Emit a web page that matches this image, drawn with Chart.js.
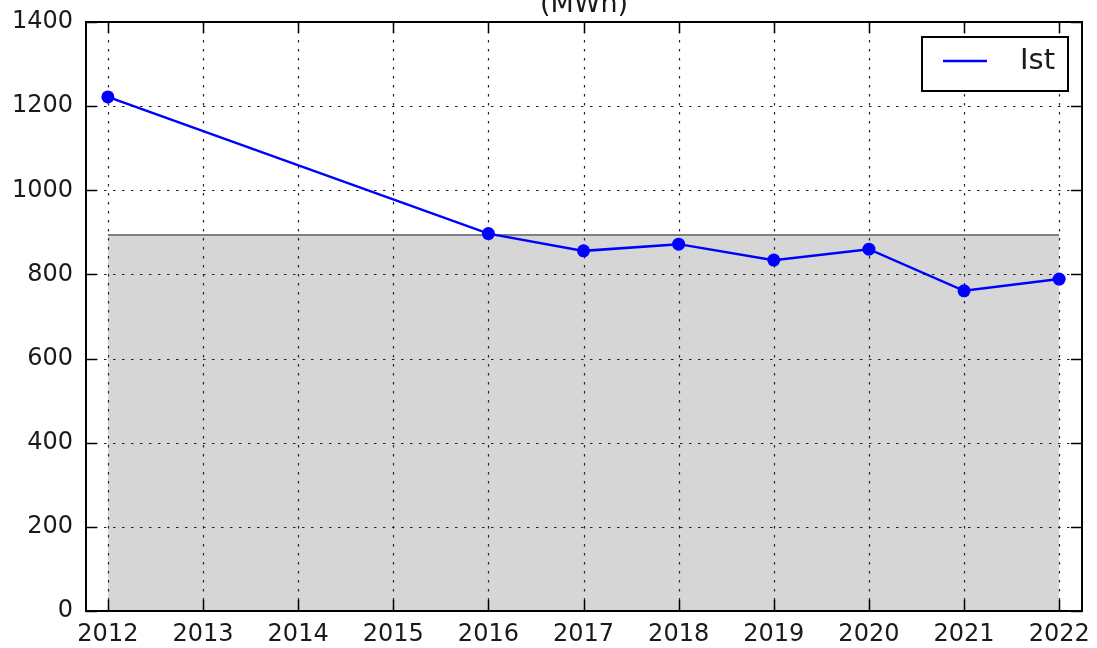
<!DOCTYPE html>
<html><head><meta charset="utf-8">
<script src="https://cdn.jsdelivr.net/npm/chart.js@4/dist/chart.umd.min.js"></script>
<style>
html,body{margin:0;padding:0;background:#fff;overflow:hidden}
#wrap{position:relative;width:1097px;height:648px;overflow:hidden;background:#fff}
#c{position:absolute;left:0;top:-30px}
</style></head><body>
<div id="wrap"><canvas id="c" width="1097" height="678"></canvas></div>
<script>
const chartTitle = '(MWh)';
const seriesLabel = 'Ist';
const years = [2012, 2016, 2017, 2018, 2019, 2020, 2021, 2022];
const istValues = [1222, 897, 856, 872, 834, 860, 761, 789];
const bandYears = [2012, 2022];
const bandValues = [894, 894];
const xTicks = [2012, 2013, 2014, 2015, 2016, 2017, 2018, 2019, 2020, 2021, 2022];
const yTicks = [0, 200, 400, 600, 800, 1000, 1200, 1400];

const FONT = "'DejaVu Sans', sans-serif";
const TXT = '#1a1a1a';

const decor = {
  id: 'decor',
  afterDatasetDraw(chart, args) {
    if (args.index !== 1) return;
    const ctx = chart.ctx, a = chart.chartArea;
    const xs = chart.scales.x, ys = chart.scales.y;
    ctx.save();
    ctx.strokeStyle = '#222';
    ctx.lineWidth = 1.2;
    ctx.setLineDash([2.5, 6.5]);
    xTicks.forEach(v => {
      const x = Math.round(xs.getPixelForValue(v)) + 0.5;
      ctx.beginPath(); ctx.moveTo(x, a.top); ctx.lineTo(x, a.bottom); ctx.stroke();
    });
    yTicks.forEach(v => {
      if (v === yTicks[0] || v === yTicks[yTicks.length - 1]) return;
      const y = Math.round(ys.getPixelForValue(v)) + 0.5;
      ctx.beginPath(); ctx.moveTo(a.left, y); ctx.lineTo(a.right, y); ctx.stroke();
    });
    ctx.restore();
  },
  afterDraw(chart) {
    const ctx = chart.ctx, a = chart.chartArea;
    const xs = chart.scales.x, ys = chart.scales.y;
    ctx.save();
    // title, centred over the plot area
    ctx.fillStyle = TXT;
    ctx.font = '27px ' + FONT;
    ctx.textAlign = 'center';
    ctx.textBaseline = 'alphabetic';
    ctx.fillText(chartTitle, (a.left + a.right) / 2, a.top - 10);
    ctx.strokeStyle = '#000';
    ctx.lineWidth = 1.5;
    const L = 11;
    xTicks.forEach(v => {
      const x = Math.round(xs.getPixelForValue(v)) + 0.5;
      ctx.beginPath(); ctx.moveTo(x, a.bottom); ctx.lineTo(x, a.bottom - L); ctx.stroke();
      ctx.beginPath(); ctx.moveTo(x, a.top); ctx.lineTo(x, a.top + L); ctx.stroke();
    });
    yTicks.forEach(v => {
      const y = Math.round(ys.getPixelForValue(v)) + 0.5;
      ctx.beginPath(); ctx.moveTo(a.left, y); ctx.lineTo(a.left + L, y); ctx.stroke();
      ctx.beginPath(); ctx.moveTo(a.right, y); ctx.lineTo(a.right - L, y); ctx.stroke();
    });
    ctx.lineWidth = 2;
    ctx.strokeRect(a.left, a.top, a.right - a.left, a.bottom - a.top);
    // legend
    const bw = 146, bh = 54;
    const bx = a.right - 14 - bw, by = a.top + 15;
    ctx.fillStyle = '#fff';
    ctx.fillRect(bx, by, bw, bh);
    ctx.strokeStyle = '#000';
    ctx.lineWidth = 2;
    ctx.strokeRect(bx, by, bw, bh);
    const ly = by + 24;
    ctx.strokeStyle = '#0000ff';
    ctx.lineWidth = 2.5;
    ctx.beginPath(); ctx.moveTo(bx + 21, ly); ctx.lineTo(bx + 65, ly); ctx.stroke();
    ctx.fillStyle = TXT;
    ctx.font = '29px ' + FONT;
    ctx.textBaseline = 'middle';
    ctx.textAlign = 'left';
    ctx.fillText(chart.data.datasets[0].label, bx + 98, ly);
    ctx.restore();
  }
};

new Chart(document.getElementById('c'), {
  type: 'line',
  data: {
    datasets: [
      {
        label: seriesLabel,
        data: years.map((y, i) => ({x: y, y: istValues[i]})),
        borderColor: '#0000ff',
        backgroundColor: '#0000ff',
        borderWidth: 2.5,
        pointRadius: 6.5,
        pointBorderWidth: 0,
        pointBackgroundColor: '#0000ff',
        fill: false,
        order: 1
      },
      {
        label: 'band',
        data: bandYears.map((y, i) => ({x: y, y: bandValues[i]})),
        borderColor: '#808080',
        borderWidth: 2,
        pointRadius: 0,
        backgroundColor: '#d6d6d6',
        fill: 'origin',
        order: 2
      }
    ]
  },
  options: {
    responsive: false,
    animation: false,
    events: [],
    layout: { padding: { left: 0, right: 15, top: 52, bottom: 0 } },
    plugins: {
      legend: { display: false },
      tooltip: { enabled: false },
      title: { display: false }
    },
    scales: {
      x: {
        type: 'linear',
        min: 2011.77,
        max: 2022.24,
        grid: { display: false, drawTicks: false },
        border: { display: false },
        afterBuildTicks: s => { s.ticks = xTicks.map(v => ({value: v})); },
        afterFit: s => { s.height = 37; s.paddingLeft = 0; s.paddingRight = 0; },
        ticks: {
          color: TXT,
          padding: 9,
          maxRotation: 0,
          autoSkip: false,
          font: { family: FONT, size: 24 },
          callback: v => String(v)
        }
      },
      y: {
        min: 0,
        max: 1400,
        grid: { display: false, drawTicks: false },
        border: { display: false },
        afterBuildTicks: s => { s.ticks = yTicks.map(v => ({value: v})); },
        afterFit: s => { s.width = 86; s.paddingTop = 0; s.paddingBottom = 0; },
        ticks: {
          color: TXT,
          padding: 13,
          font: { family: FONT, size: 24 },
          callback: v => String(v)
        }
      }
    }
  },
  plugins: [decor]
});
</script>
</body></html>
